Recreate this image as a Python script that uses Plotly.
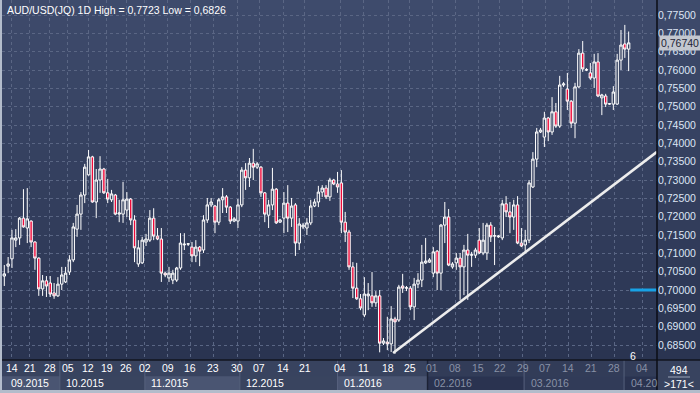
import plotly.graph_objects as go

# ---------------- data ----------------
title_text = "AUD/USD(JQ) 1D High = 0,7723 Low = 0,6826"

opens = [0.7038, 0.7065, 0.7085, 0.7136, 0.7142, 0.7196, 0.7169, 0.7188, 0.7131, 0.7087,
         0.7003, 0.7025, 0.7019, 0.6992, 0.6984, 0.7016, 0.7022, 0.7049, 0.7082, 0.7166,
         0.7207, 0.7259, 0.7314, 0.7363, 0.7240, 0.7300, 0.7330, 0.7265, 0.7246, 0.7259,
         0.7207, 0.7207, 0.7218, 0.7248, 0.7191, 0.7071, 0.7074, 0.7131, 0.7136, 0.7196,
         0.7147, 0.7139, 0.7046, 0.7033, 0.7027, 0.7027, 0.7060, 0.7123, 0.7125, 0.7117,
         0.7093, 0.7117, 0.7109, 0.7191, 0.7232, 0.7229, 0.7185, 0.7246, 0.7254, 0.7226,
         0.7188, 0.7188, 0.7232, 0.7327, 0.7306, 0.7346, 0.7335, 0.7335, 0.7265, 0.7204,
         0.7232, 0.7275, 0.7185, 0.7196, 0.7237, 0.7196, 0.7232, 0.7128, 0.7172, 0.7169,
         0.7183, 0.7229, 0.7240, 0.7267, 0.7278, 0.7254, 0.7300, 0.7289, 0.7292, 0.7185,
         0.7158, 0.7063, 0.7005, 0.6976, 0.6932, 0.6984, 0.6984, 0.6965, 0.6984, 0.6855,
         0.6858, 0.6853, 0.6921, 0.6918, 0.7011, 0.7005, 0.7005, 0.6954, 0.7016, 0.7027,
         0.7074, 0.7076, 0.7046, 0.7106, 0.7046, 0.7177, 0.7199, 0.7063, 0.7074, 0.7087,
         0.7063, 0.7109, 0.7095, 0.7095, 0.7136, 0.7101, 0.7101, 0.7177, 0.7147, 0.7145,
         0.7142, 0.7235, 0.7213, 0.7199, 0.7232, 0.7128, 0.7123, 0.7136, 0.7281, 0.7357,
         0.7431, 0.7417, 0.7469, 0.7431, 0.7486, 0.7447, 0.7559, 0.7548, 0.7515, 0.7455,
         0.7554, 0.7646, 0.7601, 0.7592, 0.7578, 0.7622, 0.7524, 0.7529, 0.7507, 0.7507,
         0.7507, 0.7627, 0.7671, 0.7657]
highs = [0.7068, 0.7090, 0.7164, 0.7166, 0.7199, 0.7275, 0.7278, 0.7190, 0.7133, 0.7089,
         0.7041, 0.7038, 0.7038, 0.7019, 0.7035, 0.7063, 0.7063, 0.7095, 0.7183, 0.7232,
         0.7267, 0.7344, 0.7382, 0.7366, 0.7330, 0.7365, 0.7333, 0.7303, 0.7273, 0.7262,
         0.7246, 0.7295, 0.7267, 0.7251, 0.7204, 0.7136, 0.7145, 0.7153, 0.7218, 0.7223,
         0.7169, 0.7169, 0.7049, 0.7063, 0.7055, 0.7063, 0.7155, 0.7155, 0.7128, 0.7131,
         0.7136, 0.7120, 0.7204, 0.7251, 0.7251, 0.7232, 0.7251, 0.7278, 0.7259, 0.7229,
         0.7199, 0.7248, 0.7335, 0.7346, 0.7360, 0.7385, 0.7349, 0.7338, 0.7267, 0.7246,
         0.7333, 0.7278, 0.7194, 0.7267, 0.7286, 0.7251, 0.7237, 0.7196, 0.7183, 0.7196,
         0.7246, 0.7248, 0.7284, 0.7286, 0.7286, 0.7306, 0.7303, 0.7322, 0.7327, 0.7213,
         0.7164, 0.7076, 0.7074, 0.6989, 0.7035, 0.7019, 0.7049, 0.6997, 0.7000, 0.6869,
         0.6927, 0.6956, 0.6927, 0.7014, 0.7044, 0.7011, 0.7011, 0.7033, 0.7046, 0.7123,
         0.7142, 0.7087, 0.7117, 0.7109, 0.7180, 0.7240, 0.7221, 0.7076, 0.7101, 0.7101,
         0.7123, 0.7153, 0.7104, 0.7115, 0.7169, 0.7183, 0.7183, 0.7185, 0.7172, 0.7150,
         0.7246, 0.7256, 0.7240, 0.7246, 0.7256, 0.7169, 0.7164, 0.7300, 0.7376, 0.7442,
         0.7442, 0.7486, 0.7472, 0.7526, 0.7510, 0.7584, 0.7567, 0.7592, 0.7518, 0.7565,
         0.7657, 0.7679, 0.7605, 0.7619, 0.7644, 0.7646, 0.7535, 0.7535, 0.7510, 0.7556,
         0.7644, 0.7709, 0.7723, 0.7705]
lows = [0.7011, 0.7046, 0.7060, 0.7117, 0.7123, 0.7170, 0.7128, 0.7117, 0.7055, 0.6984,
        0.6984, 0.6981, 0.6981, 0.6976, 0.6981, 0.7000, 0.7019, 0.7041, 0.7076, 0.7145,
        0.7164, 0.7237, 0.7312, 0.7238, 0.7196, 0.7265, 0.7262, 0.7237, 0.7240, 0.7204,
        0.7185, 0.7183, 0.7199, 0.7177, 0.7076, 0.7063, 0.7071, 0.7120, 0.7131, 0.7136,
        0.7136, 0.7022, 0.7035, 0.7022, 0.7016, 0.7022, 0.7055, 0.7109, 0.7120, 0.7076,
        0.7076, 0.7065, 0.7101, 0.7183, 0.7226, 0.7155, 0.7177, 0.7210, 0.7210, 0.7180,
        0.7185, 0.7169, 0.7226, 0.7273, 0.7281, 0.7300, 0.7330, 0.7254, 0.7185, 0.7169,
        0.7218, 0.7180, 0.7183, 0.7155, 0.7158, 0.7172, 0.7093, 0.7109, 0.7166, 0.7150,
        0.7177, 0.7226, 0.7226, 0.7254, 0.7248, 0.7243, 0.7286, 0.7265, 0.7155, 0.7131,
        0.7055, 0.6978, 0.6973, 0.6945, 0.6926, 0.6945, 0.6954, 0.6954, 0.6830, 0.6850,
        0.6836, 0.6831, 0.6826, 0.6913, 0.6992, 0.6997, 0.6945, 0.6918, 0.7005, 0.7008,
        0.7071, 0.7074, 0.7035, 0.7000, 0.7000, 0.7128, 0.7065, 0.7058, 0.7055, 0.6973,
        0.6986, 0.6973, 0.7063, 0.7087, 0.7098, 0.7095, 0.7082, 0.7131, 0.7068, 0.7142,
        0.7136, 0.7199, 0.7155, 0.7164, 0.7125, 0.7117, 0.7101, 0.7128, 0.7278, 0.7335,
        0.7428, 0.7390, 0.7406, 0.7423, 0.7442, 0.7442, 0.7554, 0.7491, 0.7442, 0.7414,
        0.7551, 0.7595, 0.7597, 0.7573, 0.7551, 0.7526, 0.7477, 0.7499, 0.7505, 0.7491,
        0.7505, 0.7600, 0.7633, 0.7597]
closes = [0.7044, 0.7071, 0.7142, 0.7142, 0.7196, 0.7172, 0.7194, 0.7131, 0.7087, 0.7003,
          0.7025, 0.7011, 0.6989, 0.6984, 0.7016, 0.7041, 0.7046, 0.7082, 0.7172, 0.7207,
          0.7259, 0.7335, 0.7363, 0.7240, 0.7300, 0.7330, 0.7265, 0.7248, 0.7262, 0.7207,
          0.7210, 0.7246, 0.7248, 0.7191, 0.7115, 0.7115, 0.7136, 0.7139, 0.7196, 0.7147,
          0.7139, 0.7046, 0.7041, 0.7046, 0.7046, 0.7060, 0.7128, 0.7125, 0.7126, 0.7093,
          0.7117, 0.7106, 0.7191, 0.7232, 0.7240, 0.7185, 0.7246, 0.7254, 0.7226, 0.7188,
          0.7194, 0.7232, 0.7327, 0.7306, 0.7346, 0.7335, 0.7344, 0.7265, 0.7207, 0.7232,
          0.7275, 0.7183, 0.7191, 0.7237, 0.7196, 0.7229, 0.7128, 0.7180, 0.7177, 0.7183,
          0.7229, 0.7240, 0.7267, 0.7278, 0.7254, 0.7300, 0.7289, 0.7281, 0.7185, 0.7158,
          0.7063, 0.7005, 0.6976, 0.6951, 0.6989, 0.6989, 0.6965, 0.6984, 0.6855, 0.6861,
          0.6853, 0.6921, 0.6913, 0.7008, 0.7005, 0.7006, 0.6954, 0.7016, 0.7027, 0.7076,
          0.7079, 0.7082, 0.7104, 0.7046, 0.7177, 0.7199, 0.7068, 0.7071, 0.7087, 0.7063,
          0.7109, 0.7095, 0.7096, 0.7109, 0.7101, 0.7136, 0.7177, 0.7145, 0.7148, 0.7147,
          0.7235, 0.7213, 0.7199, 0.7232, 0.7128, 0.7120, 0.7136, 0.7292, 0.7357, 0.7431,
          0.7436, 0.7469, 0.7431, 0.7486, 0.7447, 0.7559, 0.7562, 0.7515, 0.7455, 0.7554,
          0.7646, 0.7603, 0.7600, 0.7578, 0.7622, 0.7529, 0.7532, 0.7507, 0.7508, 0.7540,
          0.7627, 0.7668, 0.7657, 0.7674]
bar_index = list(range(len(opens)))

day_tick_pos = [2.0, 6.7, 11.9, 16.6, 21.9, 26.8, 31.8, 36.7, 42.7, 48.5, 54.5, 60.8, 66.5,
                72.8, 78.5, 87.7, 93.7, 100.2, 105.9, 111.7, 117.7, 123.7, 129.4, 135.4,
                141.2, 147.2, 153.2, 159.2, 166.5]
day_tick_text = ["14", "21", "28", "05", "12", "19", "26", "02", "09", "16", "23", "30", "07",
                 "14", "21", "04", "11", "18", "25", "01", "08", "15", "22", "29",
                 "07", "14", "21", "28", "04"]
month_labels = ["09.2015", "10.2015", "11.2015", "12.2015", "01.2016", "02.2016", "03.2016", "04.20"]
month_start = [-0.6, 14.5, 36.7, 61.5, 87.0, 110.5, 135.7, 161.8]
month_end = [14.5, 36.7, 61.5, 87.0, 110.5, 135.7, 161.8, 170.4]
month_fill = ["#4a5572", "#39445f", "#4a5572", "#39445f", "#4a5572", "#2a3350", "#313b58", "#2a3350"]

price_ticks = [0.685, 0.690, 0.695, 0.700, 0.705, 0.710, 0.715, 0.720, 0.725, 0.730,
               0.735, 0.740, 0.745, 0.750, 0.755, 0.760, 0.765, 0.770, 0.775]

trend_x = [101.5, 170.4]
trend_y = [0.6828, 0.7377]
alert_x = [163.4, 170.4]
alert_y = [0.700, 0.700]
last_price = 0.7674
last_price_text = "0,76740"
bars_total = "494"
bars_visible = ">171<"
x_range = [-0.6, 170.4]
y_range = [0.68091, 0.77909]
dim_from = 110.5   # axis area dimmed from 02.2016 on

# ---------------- figure ----------------
FONT = "Liberation Sans, Arial, sans-serif"
W, H = 700, 393
ML, MR, MT, MB = 2, 43, 0, 3
PW, PH = W - ML - MR, H - MT - MB
band_h = 30.0

fig = go.Figure()

fig.add_trace(go.Candlestick(
    x=bar_index, open=opens, high=highs, low=lows, close=closes,
    increasing=dict(line=dict(color="#ffffff", width=1), fillcolor="#35415f"),
    decreasing=dict(line=dict(color="#ffffff", width=1), fillcolor="#ee0a3a"),
    whiskerwidth=0, showlegend=False, hoverinfo="skip", xaxis="x", yaxis="y"))

fig.add_trace(go.Scatter(x=trend_x, y=trend_y, mode="lines",
                         line=dict(color="#ededed", width=2.6),
                         showlegend=False, hoverinfo="skip", xaxis="x", yaxis="y"))
fig.add_trace(go.Scatter(x=alert_x, y=alert_y, mode="lines",
                         line=dict(color="#18a2e6", width=3),
                         showlegend=False, hoverinfo="skip", xaxis="x", yaxis="y"))

shapes = []
# background gradient
top_c = (62, 75, 108)
bot_c = (42, 52, 81)
nb = 36
dom0 = band_h / PH
for k in range(nb):
    t = (k + 0.5) / nb
    c = tuple(int(round(top_c[i] + (bot_c[i] - top_c[i]) * t)) for i in range(3))
    y1 = 1 - k * (1 - dom0) / nb
    y0 = 1 - (k + 1) * (1 - dom0) / nb
    shapes.append(dict(type="rect", xref="paper", yref="paper", x0=-ML / PW, x1=1 + MR / PW,
                       y0=y0 - 0.002, y1=y1, fillcolor="rgb(%d,%d,%d)" % c, line_width=0, layer="below"))
# axis band base
shapes.append(dict(type="rect", xref="paper", yref="paper", x0=-ML / PW, x1=1 + MR / PW,
                   y0=0, y1=dom0, fillcolor="#38435f", line_width=0, layer="below"))
# month boxes
for s, e, f in zip(month_start, month_end, month_fill):
    shapes.append(dict(type="rect", xref="x2", yref="y2", x0=s, x1=e, y0=0, y1=0.46,
                       fillcolor=f, line_width=0, layer="below"))
# dim overlay on date row
shapes.append(dict(type="rect", xref="x2", yref="y2", x0=dim_from, x1=x_range[1], y0=0.46, y1=1,
                   fillcolor="#323c58", line_width=0, layer="below"))
for s in month_start[1:]:
    shapes.append(dict(type="line", xref="x2", yref="y2", x0=s, x1=s, y0=0, y1=1,
                       line=dict(color="#56617d", width=1), layer="above"))
shapes.append(dict(type="line", xref="x2", yref="y2", x0=dim_from, x1=dim_from, y0=0, y1=1,
                   line=dict(color="#1c2235", width=1.5), layer="above"))
# separators / frame
shapes.append(dict(type="line", xref="paper", yref="paper", x0=0, x1=1 + MR / PW, y0=dom0, y1=dom0,
                   line=dict(color="#12151f", width=1.5)))
shapes.append(dict(type="line", xref="paper", yref="paper", x0=1, x1=1, y0=0, y1=1,
                   line=dict(color="#0b0d14", width=1.5)))
shapes.append(dict(type="line", xref="paper", yref="paper", x0=1 + 11 / PW, x1=1 + 33 / PW,
                   y0=(390 - 377) / PH, y1=(390 - 377) / PH, line=dict(color="#9aa4b8", width=1)))
shapes.append(dict(type="rect", xref="paper", yref="paper", x0=-ML / PW, x1=0,
                   y0=-MB / PH, y1=1, fillcolor="#b3bccb", line_width=0))
shapes.append(dict(type="rect", xref="paper", yref="paper", x0=-ML / PW, x1=1 + MR / PW,
                   y0=-MB / PH, y1=0, fillcolor="#b3bccb", line_width=0))

annotations = []
annotations.append(dict(text=title_text, xref="paper", yref="paper", x=0.004, y=1, yshift=-2,
                        xanchor="left", yanchor="top", showarrow=False,
                        font=dict(family=FONT, size=10.5, color="#ffffff")))
for p, t in zip(day_tick_pos, day_tick_text):
    annotations.append(dict(text=t, xref="x2", yref="y2", x=p, y=0.72, showarrow=False,
                            xanchor="center", yanchor="middle",
                            font=dict(family=FONT, size=10.5,
                                      color="#ffffff" if p < dim_from else "#8891a6")))
for s, lab in zip(month_start, month_labels):
    annotations.append(dict(text=lab, xref="x2", yref="y2", x=max(s, 0) + 1.2, y=0.22,
                            showarrow=False, xanchor="left", yanchor="middle",
                            font=dict(family=FONT, size=10.5,
                                      color="#ffffff" if s < dim_from else "#8891a6")))
annotations.append(dict(text=last_price_text, xref="paper", yref="y", x=1 + 1.5 / PW, y=last_price,
                        xanchor="left", yanchor="middle", showarrow=False, bgcolor="#c3c7cf",
                        borderpad=1, font=dict(family=FONT, size=10.5, color="#1d2436")))
annotations.append(dict(text=bars_total, xref="paper", yref="paper", x=1 + 21.5 / PW,
                        y=(390 - 370) / PH, xanchor="center", yanchor="middle", showarrow=False,
                        font=dict(family=FONT, size=10.5, color="#ffffff")))
annotations.append(dict(text=bars_visible, xref="paper", yref="paper", x=1 + 21.5 / PW,
                        y=(390 - 384) / PH, xanchor="center", yanchor="middle", showarrow=False,
                        font=dict(family=FONT, size=10.5, color="#ffffff")))
annotations.append(dict(text="6", xref="paper", yref="paper", x=(633 - ML) / PW,
                        y=(390 - 356) / PH, xanchor="center", yanchor="middle", showarrow=False,
                        font=dict(family=FONT, size=10.5, color="#ffffff")))

fig.update_layout(
    width=W, height=H,
    margin=dict(l=ML, r=MR, t=MT, b=MB, pad=0),
    paper_bgcolor="#36415e", plot_bgcolor="rgba(0,0,0,0)",
    separators=",.",
    showlegend=False,
    boxgap=0.1,
    shapes=shapes, annotations=annotations,
    xaxis=dict(domain=[0, 1], range=x_range, anchor="y", tickvals=day_tick_pos,
               showticklabels=False, ticks="", showgrid=True, gridcolor="#5a6684",
               griddash="3px,3px", gridwidth=1, zeroline=False, showline=False,
               rangeslider=dict(visible=False), fixedrange=True),
    yaxis=dict(domain=[dom0, 1], range=y_range, anchor="x", side="right", tickvals=price_ticks,
               tickformat=".5f", ticks="", showgrid=True, gridcolor="#5a6684",
               griddash="3px,3px", gridwidth=1, zeroline=False, showline=False,
               tickfont=dict(family=FONT, size=10.5, color="#dde6f4"), fixedrange=True),
    xaxis2=dict(domain=[0, 1], range=x_range, anchor="y2", matches="x", showticklabels=False,
                ticks="", showgrid=False, zeroline=False, showline=False,
                rangeslider=dict(visible=False)),
    yaxis2=dict(domain=[0, dom0], range=[0, 1], anchor="x2", showticklabels=False, ticks="",
                showgrid=False, zeroline=False, showline=False),
)

fig.write_html("out.html", config={"displayModeBar": False},
               post_script="document.body.style.margin='0';document.body.style.padding='0';"
                           "document.documentElement.style.overflow='hidden';")
